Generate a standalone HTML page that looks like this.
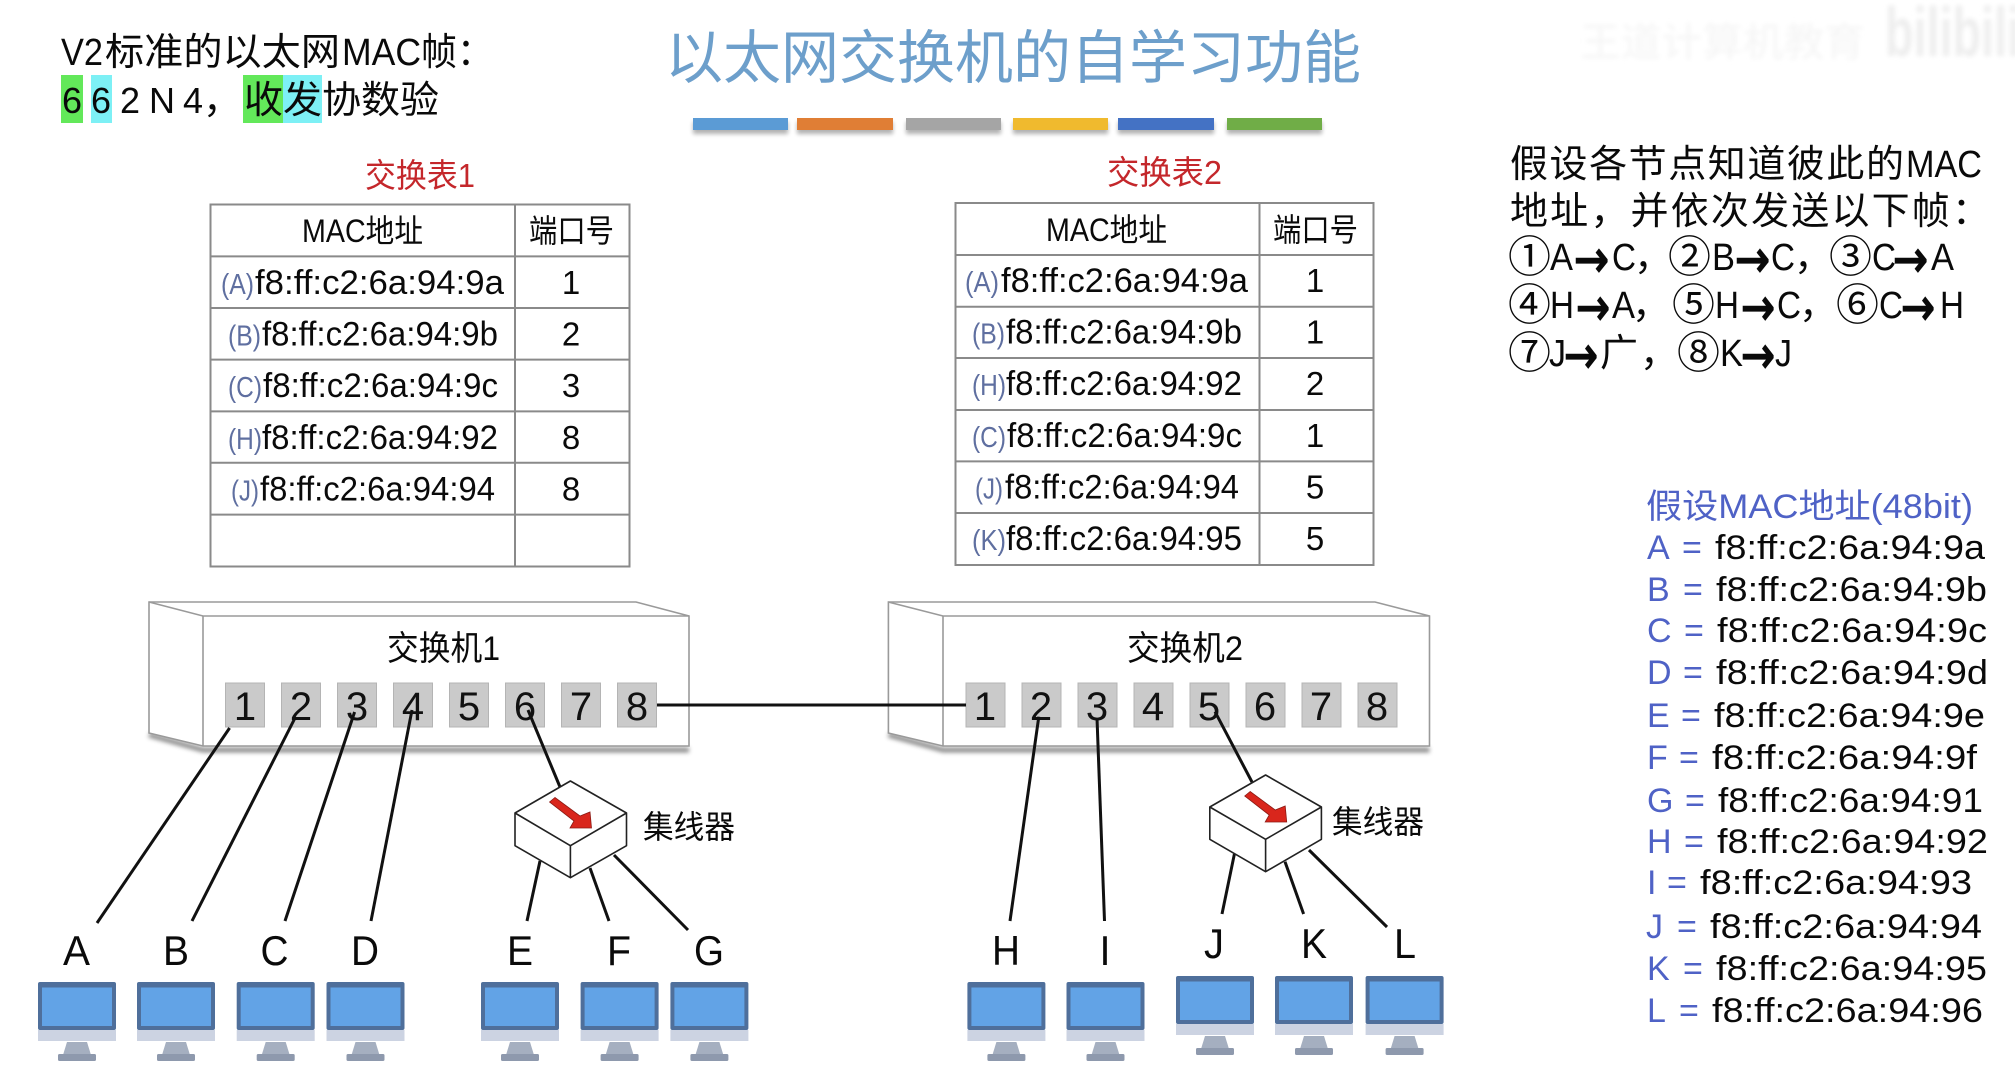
<!DOCTYPE html>
<html lang="zh">
<head>
<meta charset="utf-8">
<title>以太网交换机的自学习功能</title>
<style>
html,body{margin:0;padding:0;background:#fff;width:2015px;height:1079px;overflow:hidden}
svg{display:block}
text{font-family:"Liberation Sans","Noto Sans CJK SC",sans-serif;fill:#0a0a0a}
.c{font-family:"Noto Sans CJK SC","Liberation Sans",sans-serif}
.m{font-size:34px}
.l{font-size:29px;fill:#5f6fa0}
.n{font-size:33px;text-anchor:middle}
.h{font-size:32px}
.p{font-size:40px;text-anchor:middle;fill:#111}
.big{font-size:42px;text-anchor:middle}
.r{font-size:38px;font-family:"Noto Sans CJK SC","Liberation Sans",sans-serif}
.ci{font-size:43px;font-family:"Noto Sans CJK SC","Liberation Sans",sans-serif}
.la{font-size:38px}
.ar{font-size:52px;font-family:"DejaVu Sans",sans-serif;stroke:#0a0a0a;stroke-width:1.6}
.b{fill:#4f62c6;font-size:34px}
.v{font-size:34px}
.ln{stroke:#111;stroke-width:3;fill:none}
.tb{stroke:#8a8a8a;stroke-width:2;fill:none}
.port{fill:#cacaca;stroke:#b4b4b4;stroke-width:1}
.hub{fill:#fff;stroke:#222;stroke-width:1.6;stroke-linejoin:round}
.sw{fill:#fff;stroke:#9a9a9a;stroke-width:1.6}
</style>
</head>
<body>
<svg xmlns="http://www.w3.org/2000/svg" width="2015" height="1079" viewBox="0 0 2015 1079">
<defs>
<filter id="sh" x="-10%" y="-50%" width="120%" height="250%"><feGaussianBlur stdDeviation="2"/></filter>
<filter id="wm" x="-5%" y="-20%" width="110%" height="140%"><feGaussianBlur stdDeviation="2.5"/></filter>
<g id="pc">
<rect x="0" y="0" width="78" height="48" rx="2" fill="#4f6f9b"/>
<rect x="4" y="5.5" width="70" height="38.5" fill="#62a3e6"/>
<rect x="0" y="48" width="78" height="11" fill="#ccd3e2"/>
<polygon points="29,60 49,60 53,73 25,73" fill="#a5afc0"/>
<rect x="20" y="72" width="38" height="7" rx="1.5" fill="#8e99ad"/>
</g>
<g id="arr">
<polygon points="549.5,802 555,797.5 580,816 590,812 591.5,828 570,828 574,821" fill="#d9261c" stroke="#8c1a14" stroke-width="0.8"/>
</g>
</defs>

<rect width="2015" height="1079" fill="#fff"/>

<!-- watermark -->
<g filter="url(#wm)">
<text x="1580" y="56" style="fill:#f5f5f5;font-size:40px" textLength="285" lengthAdjust="spacingAndGlyphs">王道计算机教育</text>
<text x="1885" y="56" style="fill:#eeeeee;font-size:70px;font-weight:bold" textLength="135" lengthAdjust="spacingAndGlyphs">bilibili</text>
</g>

<!-- top-left note -->
<rect x="61" y="75" width="22" height="48" fill="#63e85a"/>
<rect x="91" y="75" width="21" height="48" fill="#7df0f5"/>
<rect x="243" y="75" width="40" height="48" fill="#63e85a"/>
<rect x="283" y="75" width="39" height="48" fill="#7df0f5"/>
<text x="61" y="65" style="font-size:38px" textLength="42" lengthAdjust="spacingAndGlyphs">V2</text>
<text x="105" y="65" class="r" textLength="235" lengthAdjust="spacingAndGlyphs">标准的以太网</text>
<text x="342" y="65" style="font-size:38px" textLength="79" lengthAdjust="spacingAndGlyphs">MAC</text>
<text x="421" y="65" class="r" textLength="72" lengthAdjust="spacingAndGlyphs">帧：</text>
<text y="113" style="font-size:36px"><tspan x="62">6</tspan><tspan x="91">6</tspan><tspan x="120">2</tspan><tspan x="149">N</tspan><tspan x="183">4</tspan></text>
<text x="203" y="113" class="r">，</text>
<text x="244" y="113" class="r" textLength="195" lengthAdjust="spacingAndGlyphs">收发协数验</text>

<!-- title -->
<text x="665" y="78" class="c" style="fill:#6d9fcb;font-size:58px" textLength="696" lengthAdjust="spacing">以太网交换机的自学习功能</text>

<!-- color bars -->
<g fill="#000" opacity="0.3" filter="url(#sh)">
<rect x="693" y="122" width="95" height="12"/><rect x="797" y="122" width="96" height="12"/><rect x="906" y="122" width="95" height="12"/><rect x="1013" y="122" width="95" height="12"/><rect x="1118" y="122" width="96" height="12"/><rect x="1227" y="122" width="95" height="12"/>
</g>
<rect x="693" y="118" width="95" height="12" fill="#5b9bd5"/>
<rect x="797" y="118" width="96" height="12" fill="#e07e35"/>
<rect x="906" y="118" width="95" height="12" fill="#a5a5a5"/>
<rect x="1013" y="118" width="95" height="12" fill="#f0ba2e"/>
<rect x="1118" y="118" width="96" height="12" fill="#4472c4"/>
<rect x="1227" y="118" width="95" height="12" fill="#70ad47"/>

<!-- table 1 -->
<text x="365" y="187" style="fill:#c4272b;font-size:33px" textLength="110" lengthAdjust="spacingAndGlyphs">交换表1</text>
<g class="tb">
<rect x="210.5" y="204.5" width="419" height="362"/>
<path d="M515 204.5V566.5M210.5 256.4H629.5M210.5 308H629.5M210.5 359.6H629.5M210.5 411.4H629.5M210.5 462.8H629.5M210.5 514.6H629.5"/>
</g>
<text x="302" y="242" class="h" textLength="121" lengthAdjust="spacingAndGlyphs">MAC地址</text>
<text x="529" y="242" class="h" textLength="85" lengthAdjust="spacingAndGlyphs">端口号</text>
<text x="221" y="294" class="l" textLength="33" lengthAdjust="spacingAndGlyphs">(A)</text><text x="255" y="294" class="m" textLength="249" lengthAdjust="spacingAndGlyphs">f8:ff:c2:6a:94:9a</text><text x="571" y="294" class="n">1</text>
<text x="228" y="345.6" class="l" textLength="33" lengthAdjust="spacingAndGlyphs">(B)</text><text x="262" y="345.6" class="m" textLength="236" lengthAdjust="spacingAndGlyphs">f8:ff:c2:6a:94:9b</text><text x="571" y="345.6" class="n">2</text>
<text x="228" y="397.2" class="l" textLength="34" lengthAdjust="spacingAndGlyphs">(C)</text><text x="263" y="397.2" class="m" textLength="235" lengthAdjust="spacingAndGlyphs">f8:ff:c2:6a:94:9c</text><text x="571" y="397.2" class="n">3</text>
<text x="228" y="448.8" class="l" textLength="34" lengthAdjust="spacingAndGlyphs">(H)</text><text x="262" y="448.8" class="m" textLength="236" lengthAdjust="spacingAndGlyphs">f8:ff:c2:6a:94:92</text><text x="571" y="448.8" class="n">8</text>
<text x="231" y="500.4" class="l" textLength="28" lengthAdjust="spacingAndGlyphs">(J)</text><text x="260" y="500.4" class="m" textLength="235" lengthAdjust="spacingAndGlyphs">f8:ff:c2:6a:94:94</text><text x="571" y="500.4" class="n">8</text>

<!-- table 2 -->
<text x="1107" y="184" style="fill:#c4272b;font-size:33px" textLength="115" lengthAdjust="spacingAndGlyphs">交换表2</text>
<g class="tb">
<rect x="955.5" y="203" width="418" height="362"/>
<path d="M1259.5 203V565M955.5 255H1373.5M955.5 306.7H1373.5M955.5 358H1373.5M955.5 410H1373.5M955.5 461.4H1373.5M955.5 513H1373.5"/>
</g>
<text x="1046" y="241" class="h" textLength="121" lengthAdjust="spacingAndGlyphs">MAC地址</text>
<text x="1273" y="241" class="h" textLength="85" lengthAdjust="spacingAndGlyphs">端口号</text>
<text x="965" y="292" class="l" textLength="34" lengthAdjust="spacingAndGlyphs">(A)</text><text x="1001" y="292" class="m" textLength="247" lengthAdjust="spacingAndGlyphs">f8:ff:c2:6a:94:9a</text><text x="1315" y="292" class="n">1</text>
<text x="972" y="343.6" class="l" textLength="33" lengthAdjust="spacingAndGlyphs">(B)</text><text x="1006" y="343.6" class="m" textLength="236" lengthAdjust="spacingAndGlyphs">f8:ff:c2:6a:94:9b</text><text x="1315" y="343.6" class="n">1</text>
<text x="972" y="395.2" class="l" textLength="34" lengthAdjust="spacingAndGlyphs">(H)</text><text x="1006" y="395.2" class="m" textLength="236" lengthAdjust="spacingAndGlyphs">f8:ff:c2:6a:94:92</text><text x="1315" y="395.2" class="n">2</text>
<text x="972" y="446.8" class="l" textLength="34" lengthAdjust="spacingAndGlyphs">(C)</text><text x="1007" y="446.8" class="m" textLength="235" lengthAdjust="spacingAndGlyphs">f8:ff:c2:6a:94:9c</text><text x="1315" y="446.8" class="n">1</text>
<text x="975" y="498.4" class="l" textLength="28" lengthAdjust="spacingAndGlyphs">(J)</text><text x="1005" y="498.4" class="m" textLength="234" lengthAdjust="spacingAndGlyphs">f8:ff:c2:6a:94:94</text><text x="1315" y="498.4" class="n">5</text>
<text x="972" y="550" class="l" textLength="34" lengthAdjust="spacingAndGlyphs">(K)</text><text x="1006" y="550" class="m" textLength="236" lengthAdjust="spacingAndGlyphs">f8:ff:c2:6a:94:95</text><text x="1315" y="550" class="n">5</text>

<!-- right notes -->
<text x="1510" y="177" class="r" textLength="394" lengthAdjust="spacing">假设各节点知道彼此的</text>
<text x="1906" y="177" style="font-size:38px" textLength="76" lengthAdjust="spacingAndGlyphs">MAC</text>
<text x="1510" y="224" class="r" textLength="480" lengthAdjust="spacing">地址，并依次发送以下帧：</text>

<text x="1508" y="272" class="ci">①</text><text x="1550" y="270" class="la" textLength="23" lengthAdjust="spacingAndGlyphs">A</text><text x="1574" y="277" class="ar" textLength="35" lengthAdjust="spacingAndGlyphs">→</text><text x="1612" y="270" class="la" textLength="24" lengthAdjust="spacingAndGlyphs">C</text><text x="1634" y="270" class="r">，</text>
<text x="1668" y="272" class="ci">②</text><text x="1712" y="270" class="la" textLength="23" lengthAdjust="spacingAndGlyphs">B</text><text x="1735" y="277" class="ar" textLength="35" lengthAdjust="spacingAndGlyphs">→</text><text x="1771" y="270" class="la" textLength="24" lengthAdjust="spacingAndGlyphs">C</text><text x="1794" y="270" class="r">，</text>
<text x="1829" y="272" class="ci">③</text><text x="1872" y="270" class="la" textLength="24" lengthAdjust="spacingAndGlyphs">C</text><text x="1893" y="277" class="ar" textLength="35" lengthAdjust="spacingAndGlyphs">→</text><text x="1931" y="270" class="la" textLength="23" lengthAdjust="spacingAndGlyphs">A</text>

<text x="1508" y="320" class="ci">④</text><text x="1550" y="318" class="la" textLength="24" lengthAdjust="spacingAndGlyphs">H</text><text x="1576" y="325" class="ar" textLength="34" lengthAdjust="spacingAndGlyphs">→</text><text x="1612" y="318" class="la" textLength="23" lengthAdjust="spacingAndGlyphs">A</text><text x="1632" y="318" class="r">，</text>
<text x="1672" y="320" class="ci">⑤</text><text x="1715" y="318" class="la" textLength="24" lengthAdjust="spacingAndGlyphs">H</text><text x="1741" y="325" class="ar" textLength="34" lengthAdjust="spacingAndGlyphs">→</text><text x="1777" y="318" class="la" textLength="24" lengthAdjust="spacingAndGlyphs">C</text><text x="1799" y="318" class="r">，</text>
<text x="1836" y="320" class="ci">⑥</text><text x="1879" y="318" class="la" textLength="24" lengthAdjust="spacingAndGlyphs">C</text><text x="1901" y="325" class="ar" textLength="34" lengthAdjust="spacingAndGlyphs">→</text><text x="1940" y="318" class="la" textLength="24" lengthAdjust="spacingAndGlyphs">H</text>

<text x="1508" y="368" class="ci">⑦</text><text x="1549" y="366" class="la" textLength="17" lengthAdjust="spacingAndGlyphs">J</text><text x="1564" y="373" class="ar" textLength="34" lengthAdjust="spacingAndGlyphs">→</text><text x="1600" y="366" class="r">广</text><text x="1640" y="366" class="r">，</text>
<text x="1677" y="368" class="ci">⑧</text><text x="1720" y="366" class="la" textLength="23" lengthAdjust="spacingAndGlyphs">K</text><text x="1741" y="373" class="ar" textLength="34" lengthAdjust="spacingAndGlyphs">→</text><text x="1775" y="366" class="la" textLength="17" lengthAdjust="spacingAndGlyphs">J</text>

<!-- MAC list -->
<text x="1646" y="518" class="b" textLength="327" lengthAdjust="spacingAndGlyphs">假设MAC地址(48bit)</text>
<text x="1647" y="559" class="b">A</text><text x="1682" y="559" class="b">=</text><text x="1715" y="559" class="v" textLength="270" lengthAdjust="spacingAndGlyphs">f8:ff:c2:6a:94:9a</text>
<text x="1647" y="601" class="b">B</text><text x="1683" y="601" class="b">=</text><text x="1716" y="601" class="v" textLength="271" lengthAdjust="spacingAndGlyphs">f8:ff:c2:6a:94:9b</text>
<text x="1647" y="642" class="b">C</text><text x="1684" y="642" class="b">=</text><text x="1717" y="642" class="v" textLength="270" lengthAdjust="spacingAndGlyphs">f8:ff:c2:6a:94:9c</text>
<text x="1647" y="684" class="b">D</text><text x="1683" y="684" class="b">=</text><text x="1716" y="684" class="v" textLength="272" lengthAdjust="spacingAndGlyphs">f8:ff:c2:6a:94:9d</text>
<text x="1647" y="727" class="b">E</text><text x="1681" y="727" class="b">=</text><text x="1714" y="727" class="v" textLength="271" lengthAdjust="spacingAndGlyphs">f8:ff:c2:6a:94:9e</text>
<text x="1647" y="769" class="b">F</text><text x="1679" y="769" class="b">=</text><text x="1712" y="769" class="v" textLength="265" lengthAdjust="spacingAndGlyphs">f8:ff:c2:6a:94:9f</text>
<text x="1647" y="812" class="b">G</text><text x="1685" y="812" class="b">=</text><text x="1718" y="812" class="v" textLength="265" lengthAdjust="spacingAndGlyphs">f8:ff:c2:6a:94:91</text>
<text x="1647" y="853" class="b">H</text><text x="1684" y="853" class="b">=</text><text x="1717" y="853" class="v" textLength="271" lengthAdjust="spacingAndGlyphs">f8:ff:c2:6a:94:92</text>
<text x="1647" y="894" class="b">I</text><text x="1667" y="894" class="b">=</text><text x="1700" y="894" class="v" textLength="272" lengthAdjust="spacingAndGlyphs">f8:ff:c2:6a:94:93</text>
<text x="1646" y="938" class="b">J</text><text x="1677" y="938" class="b">=</text><text x="1710" y="938" class="v" textLength="272" lengthAdjust="spacingAndGlyphs">f8:ff:c2:6a:94:94</text>
<text x="1647" y="980" class="b">K</text><text x="1683" y="980" class="b">=</text><text x="1716" y="980" class="v" textLength="271" lengthAdjust="spacingAndGlyphs">f8:ff:c2:6a:94:95</text>
<text x="1647" y="1022" class="b">L</text><text x="1679" y="1022" class="b">=</text><text x="1712" y="1022" class="v" textLength="271" lengthAdjust="spacingAndGlyphs">f8:ff:c2:6a:94:96</text>

<!-- switch 1 -->
<path d="M149 735L203 750H689" fill="none" stroke="#666" stroke-width="5" opacity="0.75" filter="url(#sh)"/>
<polygon class="sw" points="149,602 636,602 689,616 689,746 203,746 149,733"/>
<polyline class="sw" points="149,602 203,616 689,616" style="fill:none"/>
<line class="sw" x1="203" y1="616" x2="203" y2="746"/>
<text x="387" y="660" style="font-size:34px" textLength="113" lengthAdjust="spacingAndGlyphs">交换机1</text>
<g class="port">
<rect x="225.5" y="683" width="39" height="44"/><rect x="281.5" y="683" width="39" height="44"/><rect x="337.5" y="683" width="39" height="44"/><rect x="393.5" y="683" width="39" height="44"/><rect x="449.5" y="683" width="39" height="44"/><rect x="505.5" y="683" width="39" height="44"/><rect x="561.5" y="683" width="39" height="44"/><rect x="617.5" y="683" width="39" height="44"/>
</g>
<text x="245" y="720" class="p">1</text><text x="301" y="720" class="p">2</text><text x="357" y="720" class="p">3</text><text x="413" y="720" class="p">4</text><text x="469" y="720" class="p">5</text><text x="525" y="720" class="p">6</text><text x="581" y="720" class="p">7</text><text x="637" y="720" class="p">8</text>

<!-- switch 2 -->
<path d="M888.4 735L943 750H1429.5" fill="none" stroke="#666" stroke-width="5" opacity="0.75" filter="url(#sh)"/>
<polygon class="sw" points="888.4,602 1375,602 1429.5,616 1429.5,746 943,746 888.4,733"/>
<polyline class="sw" points="888.4,602 943,616 1429.5,616" style="fill:none"/>
<line class="sw" x1="943" y1="616" x2="943" y2="746"/>
<text x="1127" y="660" style="font-size:34px" textLength="116" lengthAdjust="spacingAndGlyphs">交换机2</text>
<g class="port">
<rect x="966" y="683" width="39" height="44"/><rect x="1022" y="683" width="39" height="44"/><rect x="1078" y="683" width="39" height="44"/><rect x="1134" y="683" width="39" height="44"/><rect x="1190" y="683" width="39" height="44"/><rect x="1246" y="683" width="39" height="44"/><rect x="1302" y="683" width="39" height="44"/><rect x="1358" y="683" width="39" height="44"/>
</g>
<text x="985" y="720" class="p">1</text><text x="1041" y="720" class="p">2</text><text x="1097" y="720" class="p">3</text><text x="1153" y="720" class="p">4</text><text x="1209" y="720" class="p">5</text><text x="1265" y="720" class="p">6</text><text x="1321" y="720" class="p">7</text><text x="1377" y="720" class="p">8</text>

<!-- connectors -->
<g class="ln">
<line x1="657" y1="705" x2="966" y2="705"/>
<line x1="229.6" y1="728" x2="97" y2="923"/>
<line x1="295" y1="718" x2="192" y2="921"/>
<line x1="354.6" y1="712" x2="285" y2="921"/>
<line x1="412" y1="710" x2="371" y2="921"/>
<line x1="528" y1="710" x2="560" y2="787"/>
<line x1="540" y1="861" x2="527" y2="921"/>
<line x1="590" y1="868" x2="609" y2="921"/>
<line x1="614" y1="855" x2="688" y2="930"/>
<line x1="1038.8" y1="716.7" x2="1010" y2="921"/>
<line x1="1097" y1="718" x2="1104.5" y2="921"/>
<line x1="1215" y1="711.7" x2="1252" y2="782"/>
<line x1="1234.4" y1="854" x2="1222" y2="914"/>
<line x1="1285" y1="861.7" x2="1303.6" y2="914"/>
<line x1="1309" y1="850" x2="1387" y2="927"/>
</g>

<!-- hub 1 -->
<polygon class="hub" points="570.4,781 626.5,813 626.5,845.7 570.4,877.7 515,845.7 515,813"/>
<polyline class="hub" style="fill:none" points="515,813 570.4,845.7 626.5,813"/>
<line class="hub" x1="570.4" y1="845.7" x2="570.4" y2="877.7"/>
<use href="#arr"/>
<text x="643" y="838" style="font-size:32px" textLength="92" lengthAdjust="spacingAndGlyphs">集线器</text>

<!-- hub 2 -->
<polygon class="hub" points="1265.6,775 1321.4,807 1321.4,839.3 1265.6,871.7 1209.8,839.3 1209.8,807"/>
<polyline class="hub" style="fill:none" points="1209.8,807 1265.6,839.3 1321.4,807"/>
<line class="hub" x1="1265.6" y1="839.3" x2="1265.6" y2="871.7"/>
<use href="#arr" transform="translate(695.2,-6)"/>
<text x="1332" y="833" style="font-size:32px" textLength="92" lengthAdjust="spacingAndGlyphs">集线器</text>

<!-- host labels -->
<text x="76.5" y="965" class="big" textLength="27" lengthAdjust="spacingAndGlyphs">A</text><text x="176" y="965" class="big" textLength="26" lengthAdjust="spacingAndGlyphs">B</text><text x="274.5" y="965" class="big" textLength="28" lengthAdjust="spacingAndGlyphs">C</text><text x="365" y="965" class="big" textLength="28" lengthAdjust="spacingAndGlyphs">D</text><text x="520" y="965" class="big" textLength="26" lengthAdjust="spacingAndGlyphs">E</text><text x="619" y="965" class="big" textLength="24" lengthAdjust="spacingAndGlyphs">F</text><text x="709" y="965" class="big" textLength="30" lengthAdjust="spacingAndGlyphs">G</text>
<text x="1006" y="965" class="big" textLength="28" lengthAdjust="spacingAndGlyphs">H</text><text x="1105" y="965" class="big" textLength="11" lengthAdjust="spacingAndGlyphs">I</text><text x="1214" y="958" class="big" textLength="20" lengthAdjust="spacingAndGlyphs">J</text><text x="1314" y="958" class="big" textLength="26" lengthAdjust="spacingAndGlyphs">K</text><text x="1405" y="958" class="big" textLength="22" lengthAdjust="spacingAndGlyphs">L</text>

<!-- monitors -->
<use href="#pc" x="38" y="982"/><use href="#pc" x="137" y="982"/><use href="#pc" x="236.7" y="982"/><use href="#pc" x="326.5" y="982"/><use href="#pc" x="481" y="982"/><use href="#pc" x="580.6" y="982"/><use href="#pc" x="670.4" y="982"/>
<use href="#pc" x="967.4" y="982"/><use href="#pc" x="1066.5" y="982"/>
<use href="#pc" x="1176" y="976"/><use href="#pc" x="1275" y="976"/><use href="#pc" x="1365.6" y="976"/>
</svg>
</body>
</html>
